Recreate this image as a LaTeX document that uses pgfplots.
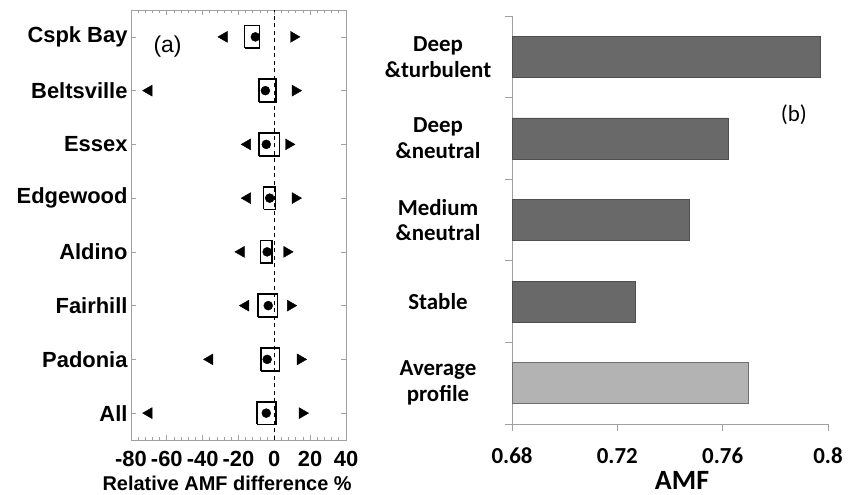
\documentclass[border=0pt]{standalone}
\usepackage{fontspec}
\setmainfont{Liberation Sans}
\newfontfamily\arialfont{Liberation Sans}
\newfontfamily\calfont{Carlito}
\usepackage{pgfplots}
\usepackage{pgfplotstable}
\pgfplotsset{compat=1.18}
\definecolor{bardark}{HTML}{696969}
\definecolor{bardarkedge}{HTML}{4E4E4E}
\definecolor{barlight}{HTML}{B3B3B3}
\definecolor{barlightedge}{HTML}{707070}
\definecolor{framegray}{HTML}{A0A0A0}
% site data: y  lefttri  boxleft boxright dot righttri
\pgfplotstableread{
y  lt     bl     br    dot    rt
8  -28   -16.6  -8.2  -10.6  10.8
7  -70   -8.4    1.1  -5.0   11.7
6  -15   -8.4    2.8  -4.5   8.0
5  -15   -6.0    0.6  -2.6   11.7
4  -18.5 -7.8   -1.2  -4.0   7.0
3  -16   -9.0    1.7  -3.4   9.0
2  -36   -7.3    2.8  -4.0   14.5
1  -70   -9.5    1.1  -4.5   15.6
}\sites
\pgfplotstableread{
y amf
4 0.797
3 0.762
2 0.7475
1 0.7268
}\regimes
\pgfplotstableread{
y amf
0 0.7697
}\avgprof
\begin{document}
\begin{tikzpicture}
\useasboundingbox (0,0) rectangle (848bp,495bp);
% ---------------- panel (a)
\begin{axis}[
  at={(131bp,55bp)}, anchor=south west, scale only axis,
  width=215bp, height=430bp,
  xmin=-80, xmax=40, ymin=0.5, ymax=8.5,
  xtick={-80,-60,-40,-20,0,20,40}, minor x tick num=4,
  ytick={1,2,3,4,5,6,7,8},
  yticklabels={All,Padonia,Fairhill,Aldino,Edgewood,Essex,Beltsville,Cspk Bay},
  tick align=inside, major tick length=5bp, minor tick length=3bp,
  axis line style={framegray, line width=0.9pt},
  every tick/.style={framegray, line width=0.7pt},
  /pgf/number format/assume math mode=true,
  ticklabel style={font=\arialfont\bfseries\fontsize{22}{22}\selectfont, text=black},
  xticklabel style={anchor=base, yshift=-27bp},
  xlabel={Relative AMF difference \%},
  xlabel style={font=\arialfont\bfseries\fontsize{20}{20}\selectfont, at={(axis description cs:0.447,0)}, anchor=base, yshift=-50bp},
  clip=false,
]
\addplot[black, line width=1.3pt, dash pattern=on 4bp off 3.5bp] coordinates {(0,0.5) (0,8.5)};
\addplot[black, line width=1.7pt, line join=miter] coordinates {(-16.6,7.79) (-8.2,7.79) (-8.2,8.21) (-16.6,8.21) (-16.6,7.79)};
\addplot[black, line width=1.7pt, line join=miter] coordinates {(-8.4,6.79) (1.1,6.79) (1.1,7.21) (-8.4,7.21) (-8.4,6.79)};
\addplot[black, line width=1.7pt, line join=miter] coordinates {(-8.4,5.79) (2.8,5.79) (2.8,6.21) (-8.4,6.21) (-8.4,5.79)};
\addplot[black, line width=1.7pt, line join=miter] coordinates {(-6.0,4.79) (0.6,4.79) (0.6,5.21) (-6.0,5.21) (-6.0,4.79)};
\addplot[black, line width=1.7pt, line join=miter] coordinates {(-7.8,3.79) (-1.2,3.79) (-1.2,4.21) (-7.8,4.21) (-7.8,3.79)};
\addplot[black, line width=1.7pt, line join=miter] coordinates {(-9.0,2.79) (1.7,2.79) (1.7,3.21) (-9.0,3.21) (-9.0,2.79)};
\addplot[black, line width=1.7pt, line join=miter] coordinates {(-7.3,1.79) (2.8,1.79) (2.8,2.21) (-7.3,2.21) (-7.3,1.79)};
\addplot[black, line width=1.7pt, line join=miter] coordinates {(-9.5,0.79) (1.1,0.79) (1.1,1.21) (-9.5,1.21) (-9.5,0.79)};
\addplot[only marks, mark=*, mark size=4.5bp, black] table[x=dot, y=y] {\sites};
\addplot[only marks, mark=triangle*, mark size=6.3bp, black, mark options={rotate=90}] table[x=lt, y=y] {\sites};
\addplot[only marks, mark=triangle*, mark size=6.3bp, black, mark options={rotate=-90}] table[x=rt, y=y] {\sites};
\node at (axis description cs:0.17,0.916) {\arialfont\fontsize{23}{23}\selectfont (a)};
\end{axis}
% ---------------- panel (b)
\begin{axis}[
  at={(512bp,71bp)}, anchor=south west, scale only axis,
  width=316bp, height=408bp,
  xmin=0.68, xmax=0.8, ymin=-0.5, ymax=4.5,
  axis x line*=bottom, axis y line*=left,
  axis line style={framegray, line width=0.9pt},
  every tick/.style={framegray, line width=0.8pt},
  tick align=outside, major tick length=7bp,
  xtick={0.68,0.72,0.76,0.8}, xticklabels={0.68,0.72,0.76,0.8},
  ytick={-0.5,0.5,1.5,2.5,3.5,4.5}, yticklabels={},
  extra y ticks={0,1,2,3,4},
  extra y tick labels={Average\\profile,Stable,Medium\\\&neutral,Deep\\\&neutral,Deep\\\&turbulent},
  extra y tick style={major tick length=0pt},
  ticklabel style={font=\calfont\bfseries\fontsize{23}{26}\selectfont, text=black},
  yticklabel style={align=center, anchor=center, xshift=-74bp},
  xticklabel style={anchor=base, yshift=-32bp},
  xlabel={AMF},
  xlabel style={font=\calfont\bfseries\fontsize{28}{28}\selectfont, at={(axis description cs:0.538,0)}, anchor=base, yshift=-65bp},
  xbar, bar width=41bp, bar shift=0pt,
]
\addplot[fill=bardark, draw=bardarkedge, line width=0.8pt] table[x=amf, y=y] {\regimes};
\addplot[fill=barlight, draw=barlightedge, line width=0.8pt] table[x=amf, y=y] {\avgprof};
\node at (axis description cs:0.892,0.757) {\calfont\fontsize{23}{23}\selectfont (b)};
\end{axis}
\end{tikzpicture}
\end{document}
